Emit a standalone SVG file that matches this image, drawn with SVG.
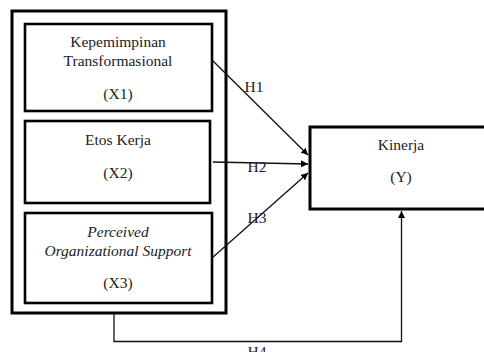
<svg xmlns="http://www.w3.org/2000/svg" width="484" height="352" viewBox="0 0 484 352">
<defs>
<style>
.box{fill:#fff;stroke:#000;stroke-width:3}
.inner{fill:#fff;stroke:#000;stroke-width:2.6}
text{font-family:'Liberation Serif','DejaVu Serif','Times New Roman',serif;font-size:15.5px;fill:#222;text-anchor:middle}
.i{font-style:italic}
.c{fill:none;stroke:#111;stroke-width:1.3}
</style>
<marker id="ah" viewBox="0 0 10 10" refX="10" refY="5" markerWidth="7" markerHeight="7" markerUnits="userSpaceOnUse" orient="auto">
<path d="M0,0 L10,5 L0,10 z" fill="#000"/>
</marker>
</defs>
<g font-family="Liberation Serif, DejaVu Serif, serif">
<g id="outer"><rect class="box" x="12" y="11" width="214" height="302"/></g>
<g id="x1">
<rect class="inner" x="25" y="24" width="187" height="87"/>
<text x="118" y="47">Kepemimpinan</text>
<text x="118" y="66">Transformasional</text>
<text x="118" y="99">(X1)</text>
</g>
<g id="x2">
<rect class="inner" x="25" y="121" width="185" height="82"/>
<text x="118" y="145">Etos Kerja</text>
<text x="118" y="178">(X2)</text>
</g>
<g id="x3">
<rect class="inner" x="25" y="213" width="187" height="90"/>
<text class="i" x="118" y="237">Perceived</text>
<text class="i" x="118" y="256">Organizational Support</text>
<text x="118" y="288">(X3)</text>
</g>
<g id="y">
<rect class="box" x="310" y="127" width="190" height="82"/>
<text x="401" y="150">Kinerja</text>
<text x="401" y="182">(Y)</text>
</g>
<g id="connectors">
<line class="c" x1="212" y1="60" x2="308" y2="155" marker-end="url(#ah)"/>
<line class="c" x1="213" y1="162" x2="308" y2="164" marker-end="url(#ah)"/>
<line class="c" x1="212" y1="258" x2="308" y2="173" marker-end="url(#ah)"/>
<path class="c" d="M114,313 V341.5 H401.5 V211" stroke="#555" marker-end="url(#ah)"/>
<text x="254" y="92">H1</text>
<text x="257" y="172">H2</text>
<text x="257" y="223">H3</text>
<text x="257" y="357">H4</text>
</g>
</g>
</svg>
